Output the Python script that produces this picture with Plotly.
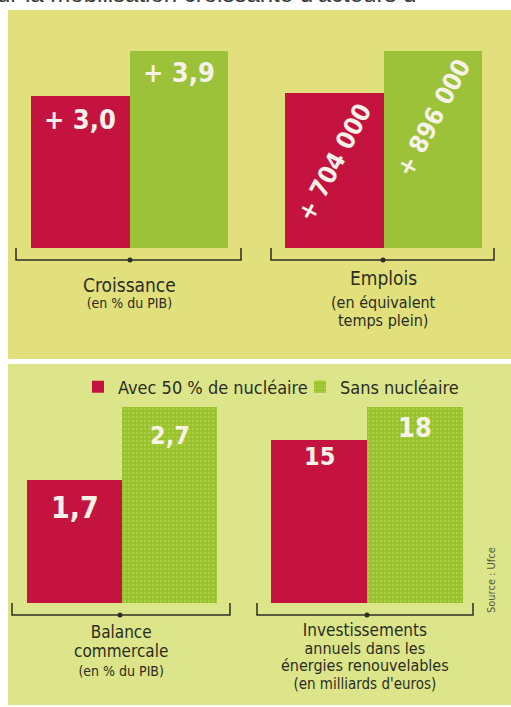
import plotly.graph_objects as go

W, H = 511, 707

# ---------------- data ----------------
scenarios = ["Avec 50 % de nucléaire", "Sans nucléaire"]
croissance = [3.0, 3.9]
emplois = [704000, 896000]
balance = [1.7, 2.7]
investissements = [15, 18]

headline = "ur la mobilisation croissante d'acteurs d"
label_croissance = ["Croissance", "(en % du PIB)"]
label_emplois = ["Emplois", "(en équivalent", "temps plein)"]
label_balance = ["Balance", "commercale", "(en % du PIB)"]
label_invest = ["Investissements", "annuels dans les", "énergies renouvelables", "(en milliards d'euros)"]
source_text = "Source : Ufce"

# ---------------- style ----------------
RED = "#c5133f"
GREEN_TOP = "#9cc23a"
GREEN_BOT = "#98c12c"
GREEN_DOT = "#c0db62"
PANEL_TOP = "#e1e07d"
PANEL_BOT = "#dce589"
TXT = "#2c2d22"
LBL = "#f6f2e8"
COND = "Liberation Sans Narrow, DejaVu Sans Condensed, Arial Narrow, sans-serif"
CAP = "DejaVu Sans Condensed, Liberation Sans Narrow, sans-serif"


def fx(p):
    return p / W


def fy(p):
    return 1 - p / H


def fmt_dec(v):
    return f"{v:.1f}".replace(".", ",")


def fmt_int(v):
    return f"{v:,}".replace(",", " ")


fig = go.Figure()

panels = [
    # values, axis id, x-pixel domain, y-pixel domain, patterned green, legend names
    (croissance, "", (31, 228), (51, 248), False, None),
    (emplois, "2", (285, 482), (51, 248), False, None),
    (balance, "3", (27, 217), (407, 603), True, ["legend", "legend2"]),
    (investissements, "4", (271, 463), (407, 603), True, None),
]

for vals, ax, xd, yd, patterned, legends in panels:
    for i, sc in enumerate(scenarios):
        if i == 0:
            marker = dict(color=RED, line=dict(width=0))
        else:
            if patterned:
                marker = dict(color=GREEN_BOT, line=dict(width=0),
                              pattern=dict(shape=".", fgcolor=GREEN_DOT, bgcolor=GREEN_BOT,
                                           size=4, solidity=0.35))
            else:
                marker = dict(color=GREEN_TOP, line=dict(width=0))
        kw = {}
        if legends:
            kw["legend"] = legends[i]
        fig.add_trace(go.Bar(
            x=[sc], y=[vals[i]], name=sc, marker=marker, width=1,
            xaxis="x" + ax, yaxis="y" + ax,
            legendgroup=sc, showlegend=bool(legends), hoverinfo="skip", **kw,
        ))
    fig.layout["xaxis" + ax] = dict(domain=[fx(xd[0]), fx(xd[1])], range=[-0.5, 1.5],
                                    visible=False, anchor="y" + ax,
                                    categoryorder="array", categoryarray=scenarios)
    fig.layout["yaxis" + ax] = dict(domain=[fy(yd[1]), fy(yd[0])], range=[0, max(vals)],
                                    visible=False, anchor="x" + ax)

annotations = []

# value labels (positioned from data via the axes)
val_specs = [
    ("", croissance, lambda v: "+ " + fmt_dec(v), [-23, -21], 0, [27, 27]),
    ("2", emplois, lambda v: "+ " + fmt_int(v), [-69, -67], -62, [25, 25]),
    ("3", balance, fmt_dec, [-28, -28], 0, [30, 25]),
    ("4", investissements, lambda v: f"{v}", [-17, -20], 0, [25, 27]),
]
for ax, vals, f, shifts, ang, sizes in val_specs:
    for i, sc in enumerate(scenarios):
        annotations.append(dict(
            x=sc, y=vals[i], xref="x" + ax, yref="y" + ax,
            text="<b>" + f(vals[i]) + "</b>", showarrow=False,
            xanchor="center", yanchor="middle", yshift=shifts[i], textangle=ang,
            font=dict(family=COND, size=sizes[i], color=LBL),
        ))


# category captions below brackets (tight leading: small base size, larger spans)
def caption(lines, sizes, cx, ymid, base):
    text = "<br>".join(f'<span style="font-size:{s}px">{t}</span>' for t, s in zip(lines, sizes))
    annotations.append(dict(x=fx(cx), y=fy(ymid), xref="paper", yref="paper", text=text,
                            showarrow=False, xanchor="center", yanchor="middle", borderpad=0,
                            font=dict(family=CAP, size=base, color=TXT)))


caption(label_croissance, [19, 14], 129, 292, 12)
caption(label_emplois[:1], [19], 383, 278, 14)
caption(label_emplois[1:], [16, 16], 383, 311, 14)
caption(label_balance, [17, 17, 14], 121, 650, 14.5)
caption(label_invest, [17, 16, 16, 15], 365, 656, 13.5)

# headline cut at the top
annotations.append(dict(x=fx(-5), y=fy(9), xref="paper", yref="paper", text=headline,
                        showarrow=False, xanchor="left", yanchor="bottom",
                        font=dict(family="Liberation Sans, Arial, sans-serif", size=24, color="#3a3a3a")))

# source
annotations.append(dict(x=fx(491), y=fy(580), xref="paper", yref="paper", text=source_text,
                        showarrow=False, textangle=-90, xanchor="center", yanchor="middle",
                        font=dict(family=COND, size=11, color="#55564a")))

shapes = [
    dict(type="rect", xref="paper", yref="paper", x0=fx(8), x1=1, y0=fy(359), y1=fy(10),
         fillcolor=PANEL_TOP, line=dict(width=0), layer="below"),
    dict(type="rect", xref="paper", yref="paper", x0=fx(8), x1=1, y0=fy(705), y1=fy(364),
         fillcolor=PANEL_BOT, line=dict(width=0), layer="below"),
]

# brackets
for x0, x1, cx, ytop, ybar in [(16, 241, 130, 260, 248), (271, 494, 383, 260, 248),
                                (12, 230, 120, 615, 603), (257, 473, 367, 615, 603)]:
    shapes.append(dict(type="path", xref="paper", yref="paper",
                       path=f"M {fx(x0)},{fy(ybar)} L {fx(x0)},{fy(ytop)} L {fx(x1)},{fy(ytop)} L {fx(x1)},{fy(ybar)}",
                       line=dict(color="#2e2e24", width=1.5)))
    shapes.append(dict(type="circle", xref="paper", yref="paper",
                       x0=fx(cx - 2.5), x1=fx(cx + 2.5), y0=fy(ytop + 2.5), y1=fy(ytop - 2.5),
                       fillcolor="#2e2e24", line=dict(width=0)))

leg_common = dict(orientation="h", xanchor="left", yanchor="middle", bgcolor="rgba(0,0,0,0)",
                  font=dict(family=CAP, size=18, color=TXT), itemclick=False, itemdoubleclick=False)

fig.update_layout(
    width=W, height=H, margin=dict(l=0, r=0, t=0, b=0),
    paper_bgcolor="white", plot_bgcolor="rgba(0,0,0,0)",
    barmode="overlay", bargap=0,
    shapes=shapes, annotations=annotations,
    showlegend=True,
    legend=dict(x=fx(78), y=fy(387), **leg_common),
    legend2=dict(x=fx(300), y=fy(387), **leg_common),
)

fig.write_html("out.html", config={"displayModeBar": False},
               post_script="document.body.style.margin='0';")
